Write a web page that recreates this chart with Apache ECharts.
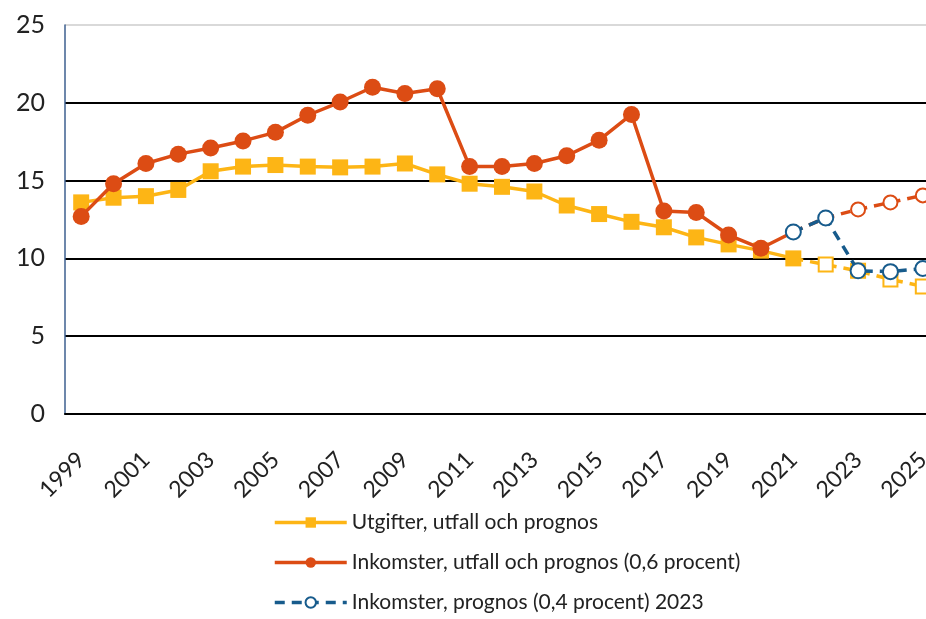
<!DOCTYPE html>
<html>
<head>
<meta charset="utf-8">
<script src="https://cdn.jsdelivr.net/npm/echarts@6/dist/echarts.min.js"></script>
<style>
  html, body { margin: 0; padding: 0; background: #fff; overflow: hidden; }
  /* plot area runs a bit past the right edge, like the original crop */
  #chart { width: 940px; height: 619px; }
</style>
</head>
<body>
<div id="chart"></div>
<script>
// år 1999-2025
var years = [];
for (var y = 1999; y <= 2025; y++) years.push(String(y));

// Utgifter, utfall (1999-2021) och prognos (2022-2025)
var utgifterUtfall = [13.6, 13.9, 14.0, 14.4, 15.6, 15.9, 16.0, 15.9, 15.85, 15.9, 16.1, 15.4, 14.8,
  14.6, 14.3, 13.4, 12.85, 12.35, 12.0, 11.35, 10.9, 10.5, 10.0];
var utgifterPrognos = [9.6, 9.2, 8.65, 8.2];

// Inkomster, utfall (1999-2020)
var inkomsterUtfall = [12.7, 14.8, 16.1, 16.7, 17.1, 17.55, 18.1, 19.2, 20.05, 21.0, 20.6, 20.9, 15.9,
  15.9, 16.1, 16.6, 17.6, 19.25, 13.05, 12.95, 11.5, 10.65];
// 2021-2022 gemensamma, sen 0,6 resp 0,4 procent
var inkomsterGemensam = [11.7, 12.6];
var inkomster06 = [13.15, 13.6, 14.05];
var inkomster04 = [9.2, 9.15, 9.35];

var legendNames = [
  "Utgifter, utfall och prognos",
  "Inkomster, utfall och prognos (0,6 procent)",
  "Inkomster, prognos (0,4 procent) 2023"
];

var cYellow = "#fdb515";
var cOrange = "#dc4c14";
var cBlue = "#175b8c";
var font = "Lato";

function pad(n) {
  var a = [];
  for (var i = 0; i < n; i++) a.push(null);
  return a;
}

// solid line: utgifter 1999-2021
var sUtg = utgifterUtfall.slice();
// dashed: utgifter 2021-2025, no marker at 2021
var dUtg = pad(utgifterUtfall.length - 1)
  .concat([{ value: utgifterUtfall[utgifterUtfall.length - 1], symbol: "none" }])
  .concat(utgifterPrognos);

// solid line: inkomster 1999-2021 (2021 marker drawn by blue series)
var sInk = inkomsterUtfall.slice().concat([{ value: inkomsterGemensam[0], symbol: "none" }]);
// dashed: inkomster 0,6 from 2021
var dInk = pad(inkomsterUtfall.length)
  .concat([{ value: inkomsterGemensam[0], symbol: "none" }, { value: inkomsterGemensam[1], symbol: "none" }])
  .concat(inkomster06);
// blue: inkomster 0,4
var dBlue = pad(inkomsterUtfall.length).concat(inkomsterGemensam).concat(inkomster04);

var chart = echarts.init(document.getElementById("chart"), null, { renderer: "canvas" });
chart.setOption({
  animation: false,
  backgroundColor: "#fff",
  textStyle: { fontFamily: font },
  grid: { left: 65, top: 25, right: 1, height: 389, containLabel: false },
  legend: {
    orient: "vertical",
    left: 268,
    top: 507,
    itemWidth: 72,
    itemHeight: 13,
    itemGap: 19,
    data: legendNames,
    lineStyle: { width: 3.5 },
    textStyle: { fontFamily: font, fontSize: 21, color: "#222", padding: [0, 0, 0, 0] }
  },
  xAxis: {
    type: "category",
    data: years,
    boundaryGap: true,
    axisLine: { lineStyle: { color: "#000", width: 2 } },
    axisTick: { show: false },
    axisLabel: {
      interval: 1,
      rotate: 45,
      margin: 42,
      color: "#222",
      fontSize: 23,
      fontFamily: font
    }
  },
  yAxis: {
    type: "value",
    min: 0,
    max: 25,
    interval: 5,
    axisLine: { show: true, lineStyle: { color: "#3d5f8f", width: 1.5 } },
    axisTick: { show: false },
    axisLabel: { color: "#222", fontSize: 25, fontFamily: font, margin: 20 },
    splitLine: {
      lineStyle: { color: ["#000", "#000", "#000", "#000", "#000", "#d9d9d9"], width: 2 }
    }
  },
  series: [
    {
      name: legendNames[0],
      type: "line",
      data: sUtg,
      symbol: "rect",
      symbolSize: 16,
      itemStyle: { color: cYellow },
      lineStyle: { color: cYellow, width: 3.5 },
      z: 2
    },
    {
      name: "utg_prognos",
      type: "line",
      data: dUtg,
      symbol: "emptyRect",
      symbolSize: 14,
      itemStyle: { color: cYellow, borderWidth: 3 },
      lineStyle: { color: cYellow, width: 3.5, type: [10, 7] },
      z: 2
    },
    {
      name: legendNames[1],
      type: "line",
      data: sInk,
      symbol: "circle",
      symbolSize: 17,
      itemStyle: { color: cOrange },
      lineStyle: { color: cOrange, width: 3.5 },
      z: 3
    },
    {
      name: "ink_prognos",
      type: "line",
      data: dInk,
      symbol: "emptyCircle",
      symbolSize: 14,
      itemStyle: { color: cOrange, borderWidth: 3 },
      lineStyle: { color: cOrange, width: 3.5, type: [10, 7] },
      z: 3
    },
    {
      name: legendNames[2],
      type: "line",
      data: dBlue,
      symbol: "emptyCircle",
      symbolSize: 15,
      itemStyle: { color: cBlue, borderWidth: 3 },
      lineStyle: { color: cBlue, width: 3.5, type: [10, 7] },
      z: 4
    }
  ]
});
</script>
</body>
</html>
